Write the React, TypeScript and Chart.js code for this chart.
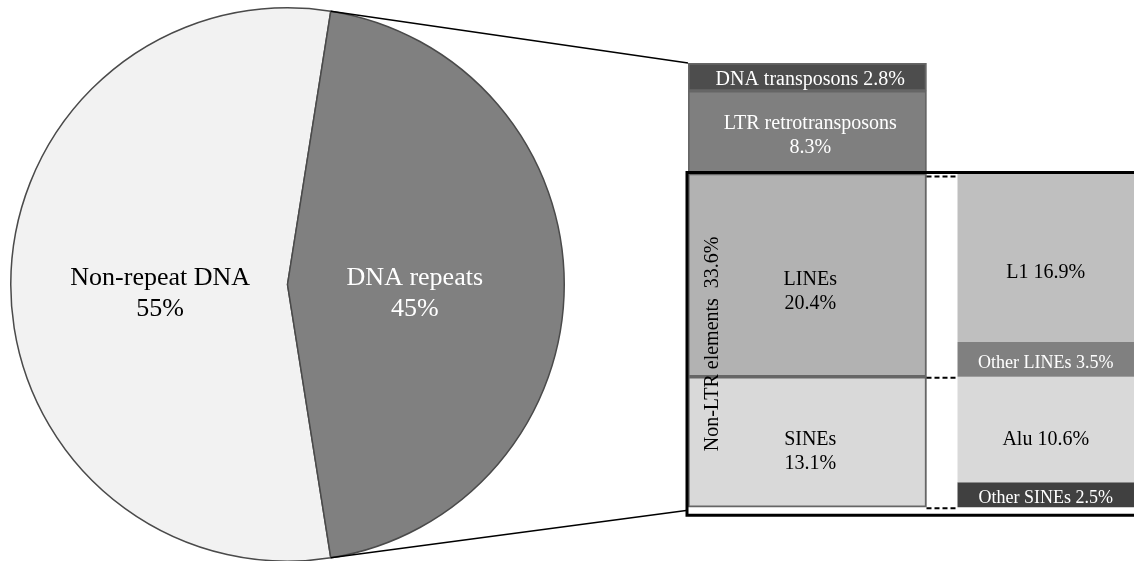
import { useEffect, useRef } from 'react';
import { Chart, registerables } from 'chart.js';

Chart.register(...registerables);

// pie: share of the genome
const pieLabels = ['Non-repeat DNA', 'DNA repeats'];
const pieValues = [55, 45];

// left column: repeat classes (% of genome)
const repeatClasses = ['DNA transposons', 'LTR retrotransposons', 'LINEs', 'SINEs'];
const repeatValues = [2.8, 8.3, 20.4, 13.1];

// right column: non-LTR families (% of genome)
const nonLtrFamilies = ['L1', 'Other LINEs', 'Alu', 'Other SINEs'];
const nonLtrValues = [16.9, 3.5, 10.6, 2.5];

const nonLtrTitle = 'Non-LTR elements  33.6%';
const columns = ['Repeat classes', 'Non-LTR families'];

// styles
const FONT = "'Liberation Serif', 'Times New Roman', serif";
const pieColors = ['#f2f2f2', '#808080'];
const pieTextColors = ['#000000', '#ffffff'];
const repeatColors = ['#4d4d4d', '#7f7f7f', '#b2b2b2', '#d9d9d9'];
const repeatTextColors = ['#ffffff', '#ffffff', '#000000', '#000000'];
const repeatWrap = [false, true, true, true];
const repeatDy = [3, 4, 17, 10];
const nonLtrColors = ['#bfbfbf', '#808080', '#d9d9d9', '#404040'];
const nonLtrTextColors = ['#000000', '#ffffff', '#000000', '#ffffff'];
const nonLtrFontSize = [20, 18, 20, 18];
const nonLtrDy = [15, 4, 10, 3];

const PIE_LEFT = 10;
const PIE_TOP = 7;
const PIE_SIZE = 555;
const BAR_W = 1170;
const H = 561;

const fmt = (v: number) => v.toFixed(1) + '%';

function drawLines(ctx: CanvasRenderingContext2D, text: string, x: number, y: number, lh: number) {
  const lines = text.split('\n');
  lines.forEach((line, i) => {
    ctx.fillText(line, x, y + (i - (lines.length - 1) / 2) * lh);
  });
}

export default function App() {
  const pieRef = useRef<HTMLCanvasElement>(null);
  const barRef = useRef<HTMLCanvasElement>(null);

  useEffect(() => {
    if (!pieRef.current || !barRef.current) return;

    const pieLabelPlugin = {
      id: 'pieLabels',
      afterDatasetsDraw(chart: any) {
        const ctx = chart.ctx;
        const meta = chart.getDatasetMeta(0);
        ctx.save();
        ctx.font = `26px ${FONT}`;
        ctx.textAlign = 'center';
        ctx.textBaseline = 'middle';
        meta.data.forEach((arc: any, i: number) => {
          const { x, y, startAngle, endAngle, outerRadius } = arc.getProps(
            ['x', 'y', 'startAngle', 'endAngle', 'outerRadius'], true);
          const mid = (startAngle + endAngle) / 2;
          const r = outerRadius * 0.46;
          ctx.fillStyle = pieTextColors[i];
          drawLines(ctx, `${pieLabels[i]}\n${pieValues[i]}%`,
            x + Math.cos(mid) * r, y + Math.sin(mid) * r + 9, 31);
        });
        ctx.restore();
      },
    };

    const pie = new Chart(pieRef.current, {
      type: 'pie',
      data: {
        labels: pieLabels,
        datasets: [{
          data: pieValues,
          backgroundColor: pieColors,
          borderColor: '#4a4a4a',
          borderWidth: 1.5,
        }],
      },
      options: {
        responsive: false,
        animation: false,
        rotation: 171,
        layout: { padding: 0 },
        plugins: { legend: { display: false }, tooltip: { enabled: false } },
      },
      plugins: [pieLabelPlugin],
    });

    const spacer = repeatValues[0] + repeatValues[1];
    const nLeft = repeatClasses.length;

    const overlayPlugin = {
      id: 'overlay',
      afterDatasetsDraw(chart: any) {
        const ctx = chart.ctx;
        const el = (ds: number, idx: number) =>
          chart.getDatasetMeta(ds).data[idx].getProps(['x', 'y', 'base', 'width'], true);
        const dnaT = el(0, 0);
        const lines = el(2, 0);
        const sines = el(3, 0);
        const l1 = el(nLeft + 1, 1);
        const barLeft = dnaT.x - dnaT.width / 2;
        const barRight = dnaT.x + dnaT.width / 2;
        const rightLeft = l1.x - l1.width / 2;

        // connectors from the repeats slice
        const arc = pie.getDatasetMeta(0).data[1] as any;
        const a = arc.getProps(['x', 'y', 'outerRadius', 'startAngle', 'endAngle'], true);
        const px = (ang: number) => PIE_LEFT + a.x + a.outerRadius * Math.cos(ang);
        const py = (ang: number) => PIE_TOP + a.y + a.outerRadius * Math.sin(ang);
        ctx.save();
        ctx.strokeStyle = '#000000';
        ctx.lineWidth = 1.5;
        ctx.beginPath();
        ctx.moveTo(px(a.startAngle), py(a.startAngle));
        ctx.lineTo(barLeft, dnaT.base);
        ctx.moveTo(px(a.endAngle), py(a.endAngle));
        ctx.lineTo(barLeft, sines.y + 3);
        ctx.stroke();

        // dashed guides between columns
        ctx.lineWidth = 2;
        ctx.setLineDash([5, 3]);
        ctx.beginPath();
        [l1.base + 3, lines.y + 1, sines.y + 1].forEach((yy) => {
          ctx.moveTo(barRight, yy);
          ctx.lineTo(rightLeft, yy);
        });
        ctx.stroke();
        ctx.setLineDash([]);

        // non-LTR box
        const top = lines.base - 1;
        const bottom = sines.y + 8;
        const left = barLeft - 1;
        ctx.lineWidth = 3;
        ctx.beginPath();
        ctx.moveTo(chart.width + 10, top);
        ctx.lineTo(left, top);
        ctx.lineTo(left, bottom);
        ctx.lineTo(chart.width + 10, bottom);
        ctx.stroke();

        // segment labels
        ctx.textAlign = 'center';
        ctx.textBaseline = 'middle';
        repeatClasses.forEach((name, i) => {
          const b = el(i, 0);
          ctx.font = `20px ${FONT}`;
          ctx.fillStyle = repeatTextColors[i];
          const txt = name + (repeatWrap[i] ? '\n' : ' ') + fmt(repeatValues[i]);
          drawLines(ctx, txt, b.x + 3, (b.y + b.base) / 2 + repeatDy[i], 24);
        });
        nonLtrFamilies.forEach((name, i) => {
          const b = el(nLeft + 1 + i, 1);
          ctx.font = `${nonLtrFontSize[i]}px ${FONT}`;
          ctx.fillStyle = nonLtrTextColors[i];
          drawLines(ctx, `${name} ${fmt(nonLtrValues[i])}`, b.x, (b.y + b.base) / 2 + nonLtrDy[i], 24);
        });

        // rotated group title
        ctx.save();
        ctx.translate(barLeft + 25, (top + bottom) / 2);
        ctx.rotate(-Math.PI / 2);
        ctx.font = `20px ${FONT}`;
        ctx.fillStyle = '#000000';
        ctx.fillText(nonLtrTitle, 0, 0);
        ctx.restore();
        ctx.restore();
      },
    };

    const bars = new Chart(barRef.current, {
      type: 'bar',
      data: {
        labels: columns,
        datasets: [
          ...repeatClasses.map((name, i) => ({
            label: name,
            data: [repeatValues[i], null],
            backgroundColor: repeatColors[i],
            borderColor: '#666666',
            borderWidth: 2,
            borderSkipped: false,
            barPercentage: 1,
            categoryPercentage: 1,
            stack: 's',
          })),
          {
            label: 'offset',
            data: [null, spacer],
            backgroundColor: 'rgba(0,0,0,0)',
            borderWidth: 0,
            barPercentage: 0.74,
            categoryPercentage: 1,
            stack: 's',
          },
          ...nonLtrFamilies.map((name, i) => ({
            label: name,
            data: [null, nonLtrValues[i]],
            backgroundColor: nonLtrColors[i],
            borderWidth: 0,
            barPercentage: 0.74,
            categoryPercentage: 1,
            stack: 's',
          })),
        ],
      },
      options: {
        responsive: false,
        animation: false,
        layout: { padding: { left: 688, right: BAR_W - 1165, top: 63, bottom: 0 } },
        plugins: { legend: { display: false }, tooltip: { enabled: false } },
        scales: {
          x: { display: false, stacked: true },
          y: { display: false, stacked: true, reverse: true, min: 0, max: 50 },
        },
      },
      plugins: [overlayPlugin],
    });

    return () => {
      bars.destroy();
      pie.destroy();
    };
  }, []);

  return (
    <div style={{ position: 'absolute', left: 0, top: 0, width: 1134, height: H, overflow: 'hidden', background: '#ffffff' }}>
      <canvas ref={pieRef} width={PIE_SIZE} height={PIE_SIZE}
        style={{ position: 'absolute', left: PIE_LEFT, top: PIE_TOP }} />
      <canvas ref={barRef} width={BAR_W} height={H}
        style={{ position: 'absolute', left: 0, top: 0 }} />
    </div>
  );
}
